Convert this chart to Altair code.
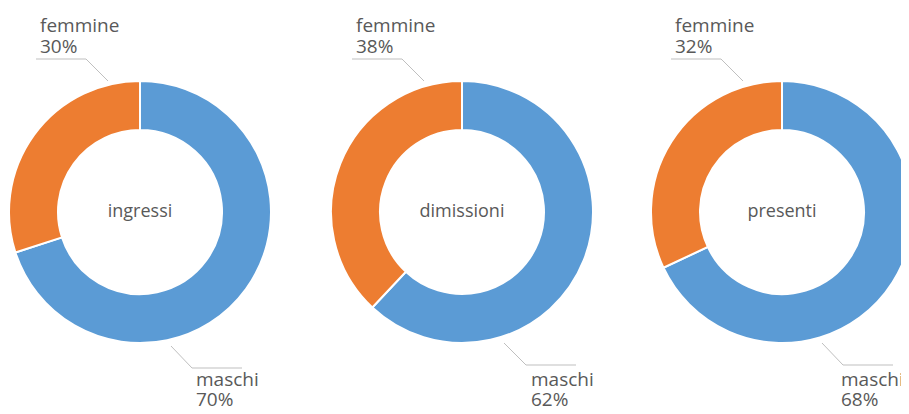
import altair as alt
import pandas as pd

panels = ["ingressi", "dimissioni", "presenti"]
categories = ["maschi", "femmine"]
maschi = [70, 62, 68]
femmine = [30, 38, 32]
colors = ["#5B9BD5", "#ED7D31"]

# layout (page pixels) for each donut centre and its labels / leader lines
centers_x = [140, 462, 782]
center_y = 212
fem_text_dx = [-100, -106, -107]
fem_line = [(-104, -54, -32), (-110, -60, -38), (-111, -61, -39)]
mas_text_dx = [56, 69, 59]
mas_line = [(31, 52, 102), (42, 64, 114), (40, 61, 111)]
mas_line_y = [(346, 368), (343, 365), (343, 365)]

M = 8  # page margin
W, H = 893, 398
FONT = "Open Sans"
TXT = "#595959"
LINE = "#BFBFBF"

rows = []
for i, p in enumerate(panels):
    rows.append({"pannello": p, "categoria": "maschi", "valore": maschi[i], "ordine": 0})
    rows.append({"pannello": p, "categoria": "femmine", "valore": femmine[i], "ordine": 1})
df = pd.DataFrame(rows)

layers = []
for i, p in enumerate(panels):
    cx = centers_x[i] - M
    cy = center_y - M
    base = alt.Chart(df).transform_filter(alt.datum.pannello == p)
    donut = base.mark_arc(
        outerRadius=131, innerRadius=82, stroke="white", strokeWidth=2
    ).encode(
        theta=alt.Theta("valore:Q", stack=True, scale=alt.Scale(domain=[0, 100])),
        color=alt.Color("categoria:N", scale=alt.Scale(domain=categories, range=colors), legend=None),
        order=alt.Order("ordine:Q"),
        x=alt.value(cx),
        y=alt.value(cy),
    )
    layers.append(donut)

    center = alt.Chart(pd.DataFrame({"t": [p]})).mark_text(
        font=FONT, fontSize=18, color=TXT, baseline="middle", align="center"
    ).encode(text="t:N", x=alt.value(cx), y=alt.value(cy))
    layers.append(center)

    texts = [
        ("femmine", cx + fem_text_dx[i], 32 - M),
        (f"{femmine[i]}%", cx + fem_text_dx[i], 53 - M),
        ("maschi", cx + mas_text_dx[i], 386 - M),
        (f"{maschi[i]}%", cx + mas_text_dx[i], 406 - M),
    ]
    for t, x, y in texts:
        layers.append(
            alt.Chart(pd.DataFrame({"t": [t]})).mark_text(
                font=FONT, fontSize=19, color=TXT, align="left", baseline="alphabetic"
            ).encode(text="t:N", x=alt.value(x), y=alt.value(y))
        )

    fx0, fx1, fx2 = fem_line[i]
    mx0, mx1, mx2 = mas_line[i]
    my0, my1 = mas_line_y[i]
    segs = [
        (cx + fx0, 59 - M, cx + fx1, 59 - M),
        (cx + fx1, 59 - M, cx + fx2, 81 - M),
        (cx + mx0, my0 - M, cx + mx1, my1 - M),
        (cx + mx1, my1 - M, cx + mx2, my1 - M),
    ]
    for (x1, y1, x2, y2) in segs:
        layers.append(
            alt.Chart(pd.DataFrame({"k": [0]})).mark_rule(color=LINE, strokeWidth=1).encode(
                x=alt.value(x1), y=alt.value(y1), x2=alt.value(x2), y2=alt.value(y2)
            )
        )

chart = alt.layer(*layers).properties(
    width=W, height=H, padding=0, autosize=alt.AutoSizeParams(type="none")
).configure_view(stroke=None)

chart.save("out.html", embed_options={"renderer": "svg", "actions": False})
